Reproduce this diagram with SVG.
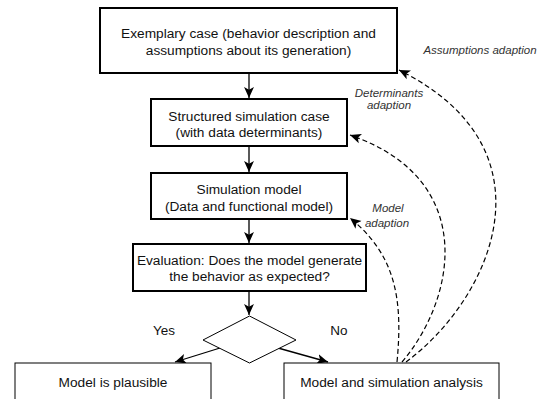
<svg xmlns="http://www.w3.org/2000/svg" width="539" height="399" viewBox="0 0 539 399">
<style>
.box{fill:#fff;stroke:#000;stroke-width:2}
.thin{fill:#fff;stroke:#000;stroke-width:1}
.t{font-family:"Liberation Sans",Arial,sans-serif;font-size:13.7px;fill:#111;text-anchor:middle}
.lbl{font-family:"Liberation Sans",Arial,sans-serif;font-size:11.5px;font-style:italic;fill:#333;text-anchor:middle}
.yn{font-family:"Liberation Sans",Arial,sans-serif;font-size:13.5px;fill:#111;text-anchor:middle}
.solid{fill:none;stroke:#000;stroke-width:1.3}
.dash{fill:none;stroke:#000;stroke-width:1.2;stroke-dasharray:5,3}
</style>
<defs>
<marker id="ah" viewBox="0 0 10 10" refX="10" refY="5" markerWidth="11" markerHeight="11" markerUnits="userSpaceOnUse" orient="auto">
<path d="M0,0.5 L10,5 L0,9.5 L2.5,5 z" fill="#000"/>
</marker>
</defs>
<rect width="539" height="399" fill="#fff"/>
<g id="connectors">
<line class="solid" x1="249" y1="73" x2="249" y2="98" marker-end="url(#ah)"/>
<line class="solid" x1="249" y1="146" x2="249" y2="172" marker-end="url(#ah)"/>
<line class="solid" x1="249" y1="220" x2="249" y2="243" marker-end="url(#ah)"/>
<line class="solid" x1="249" y1="291" x2="249" y2="315" marker-end="url(#ah)"/>
<line class="solid" x1="220" y1="348" x2="175" y2="362" marker-end="url(#ah)"/>
<line class="solid" x1="278" y1="348" x2="328" y2="362" marker-end="url(#ah)"/>
<path class="dash" d="M397,362 C403,300 396,255 350,218" marker-end="url(#ah)"/>
<path class="dash" d="M402,362 C455,300 480,180 350,135" marker-end="url(#ah)"/>
<path class="dash" d="M406,362 C490,300 560,150 399,70" marker-end="url(#ah)"/>
</g>
<g id="exemplary">
<rect class="box" x="100" y="8" width="297" height="65"/>
<text class="t" x="248.5" y="38">Exemplary case (behavior description and</text>
<text class="t" x="248.5" y="55">assumptions about its generation)</text>
</g>
<g id="structured">
<rect class="box" x="151" y="99" width="196" height="47"/>
<text class="t" x="249" y="120.5">Structured simulation case</text>
<text class="t" x="249" y="136.5">(with data determinants)</text>
</g>
<g id="simmodel">
<rect class="box" x="151" y="173" width="196" height="46"/>
<text class="t" x="249" y="194">Simulation model</text>
<text class="t" x="249" y="211">(Data and functional model)</text>
</g>
<g id="evaluation">
<rect class="box" x="133" y="244" width="233" height="47"/>
<text class="t" x="249.5" y="265">Evaluation: Does the model generate</text>
<text class="t" x="249.5" y="280.5">the behavior as expected?</text>
</g>
<g id="decision">
<polygon class="thin" points="249.5,316 296,340 249.5,363 203,340"/>
</g>
<g id="plausible">
<rect class="thin" x="15" y="363" width="196" height="50"/>
<text class="t" x="113" y="387">Model is plausible</text>
</g>
<g id="analysis">
<rect class="thin" x="284" y="363" width="215" height="50"/>
<text class="t" x="391.5" y="387">Model and simulation analysis</text>
</g>
<g id="labels">
<text class="yn" x="164" y="334.5">Yes</text>
<text class="yn" x="339" y="334.5">No</text>
<text class="lbl" x="480" y="54">Assumptions adaption</text>
<text class="lbl" x="389" y="97">Determinants</text>
<text class="lbl" x="389" y="109">adaption</text>
<text class="lbl" x="388" y="212">Model</text>
<text class="lbl" x="387" y="227">adaption</text>
</g>
</svg>
